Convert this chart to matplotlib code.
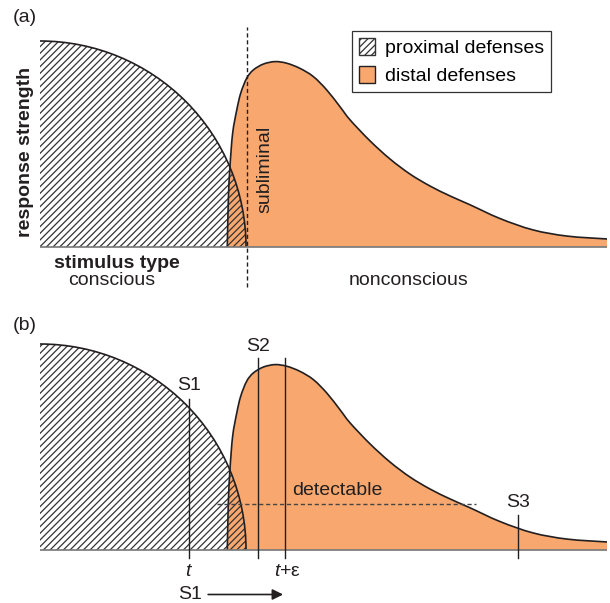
import numpy as np
import matplotlib.pyplot as plt
from matplotlib.patches import Wedge, Arc, Patch, PathPatch
from matplotlib.path import Path

plt.rcParams['font.family'] = ['Liberation Sans', 'DejaVu Sans']
plt.rcParams['mathtext.fontset'] = 'custom'
plt.rcParams['mathtext.it'] = 'Liberation Sans:italic'
plt.rcParams['mathtext.rm'] = 'Liberation Sans'
plt.rcParams['hatch.linewidth'] = 0.9

#######data (x and y in the same units, circle radius = 1)
# proximal defenses: quarter circle
prox_radius = 1.0
# distal defenses curve
dist_x = [0.909, 0.914, 0.922, 0.935, 0.955, 0.974, 1.003, 1.035, 1.084, 1.141,
          1.198, 1.262, 1.327, 1.392, 1.456, 1.505, 1.602, 1.699, 1.796, 1.893,
          1.990, 2.087, 2.233, 2.393, 2.558, 2.752]
dist_y = [0.000, 0.228, 0.390, 0.552, 0.665, 0.746, 0.819, 0.859, 0.888, 0.900,
          0.892, 0.867, 0.827, 0.762, 0.681, 0.617, 0.515, 0.427, 0.354, 0.296,
          0.248, 0.205, 0.138, 0.083, 0.053, 0.039]
xmax = 2.752
subliminal_x = 1.005
# panel (b) markers
s1_x, s2_x, teps_x, s3_x = 0.723, 1.058, 1.189, 2.320
s1_top, s2_top, teps_top, s3_top = 0.733, 0.932, 0.932, 0.170
detect_y = 0.223
detect_x0, detect_x1 = 0.859, 2.117

orange = '#F8A86E'
ink = '#231F20'
W, H = 610, 603
unit = 206.0
ylo, yhi = -0.25, 1.12

def smooth_path(xs, ys, close=False):
    # catmull-rom through the points, as cubic bezier segments
    p = np.column_stack([xs, ys])
    verts = [p[0]]
    codes = [Path.MOVETO]
    n = len(p)
    for i in range(n - 1):
        p0 = p[max(i - 1, 0)]
        p1 = p[i]
        p2 = p[i + 1]
        p3 = p[min(i + 2, n - 1)]
        verts += [p1 + (p2 - p0) / 6, p2 - (p3 - p1) / 6, p2]
        codes += [Path.CURVE4] * 3
    if close:
        verts += [(xs[-1], 0), (xs[0], 0), (xs[0], 0)]
        codes += [Path.LINETO, Path.LINETO, Path.CLOSEPOLY]
    return Path(verts, codes)

fig = plt.figure(figsize=(W / 100, H / 100), dpi=100)

def make_ax(base_px):
    bottom = (H - (base_px - ylo * unit)) / H
    height = (yhi - ylo) * unit / H
    ax = fig.add_axes([40 / W, bottom, 567 / W, height])
    ax.set_xlim(0, xmax)
    ax.set_ylim(ylo, yhi)
    ax.axis('off')
    # distal
    ax.add_patch(PathPatch(smooth_path(dist_x, dist_y, close=True), facecolor=orange,
                           lw=0, zorder=1))
    ax.add_patch(PathPatch(smooth_path(dist_x, dist_y), facecolor='none',
                           edgecolor=ink, lw=1.2, zorder=3))
    # proximal
    ax.add_patch(Wedge((0, 0), prox_radius, 0, 90, facecolor='none',
                       edgecolor='#333333', hatch='/////', lw=0, zorder=2))
    ax.add_patch(Arc((0, 0), 2 * prox_radius, 2 * prox_radius, theta1=0, theta2=90,
                     color=ink, lw=1.2, zorder=3))
    ax.plot([0, xmax], [0, 0], color='#777777', lw=1.2, zorder=4)
    return ax

#(a)
ax1 = make_ax(247)
ax1.plot([subliminal_x, subliminal_x], [-0.194, 1.068], color=ink, lw=1,
         ls=(0, (3, 2)), zorder=5)
ax1.text(1.092, 0.379, 'subliminal', rotation=90, ha='center', va='center',
         fontsize=14, color=ink)
ax1.text(0.371, -0.078, 'stimulus type', fontweight='bold', ha='center',
         va='center', fontsize=14, color=ink)
ax1.text(0.350, -0.165, 'conscious', ha='center', va='center', fontsize=14, color=ink)
ax1.text(1.789, -0.165, 'nonconscious', ha='center', va='center', fontsize=14, color=ink)
ax1.text(-0.068, 0.461, 'response strength', rotation=90, fontweight='bold',
         ha='center', va='center', fontsize=14, color=ink)
ax1.text(-0.073, 1.112, '(a)', ha='center', va='center', fontsize=14, color=ink)

handles = [Patch(facecolor='white', edgecolor='#333333', hatch='/////', lw=1),
           Patch(facecolor=orange, edgecolor=ink, lw=1)]
leg = fig.legend(handles, ['proximal defenses', 'distal defenses'], loc='upper left',
                 bbox_to_anchor=(352 / W, 1 - 31 / H), borderaxespad=0,
                 fontsize=14, frameon=True, fancybox=False, framealpha=1,
                 handlelength=0.85, handleheight=1.0, handletextpad=0.5,
                 borderpad=0.35, labelspacing=0.45)
leg.get_frame().set_edgecolor('#333333')
leg.get_frame().set_linewidth(0.9)

#(b)
ax2 = make_ax(550)
for xv, top in [(s1_x, s1_top), (s2_x, s2_top), (teps_x, teps_top), (s3_x, s3_top)]:
    ax2.plot([xv, xv], [-0.039, top], color=ink, lw=1, zorder=5)
ax2.plot([detect_x0, detect_x1], [detect_y, detect_y], color='#444444', lw=1,
         ls=(0, (3, 2)), zorder=5)
ax2.text(s1_x, 0.80, 'S1', ha='center', va='center', fontsize=14, color=ink)
ax2.text(s2_x, 0.99, 'S2', ha='center', va='center', fontsize=14, color=ink)
ax2.text(s3_x, 0.233, 'S3', ha='center', va='center', fontsize=14, color=ink)
ax2.text(1.442, 0.291, 'detectable', ha='center', va='center', fontsize=14, color=ink)
ax2.text(s1_x, -0.102, '$t$', ha='center', va='center', fontsize=14, color=ink)
ax2.text(1.20, -0.102, '$t$+ε', ha='center', va='center', fontsize=14, color=ink)
ax2.text(0.728, -0.214, 'S1', ha='center', va='center', fontsize=14, color=ink)
ax2.annotate('', xy=(1.18, -0.216), xytext=(0.816, -0.216), annotation_clip=False,
             arrowprops=dict(arrowstyle='-|>', color=ink, lw=1.2, mutation_scale=16,
                             shrinkA=0, shrinkB=0))
ax2.text(-0.073, 1.092, '(b)', ha='center', va='center', fontsize=14, color=ink)

plt.savefig('out.png', dpi=100)
